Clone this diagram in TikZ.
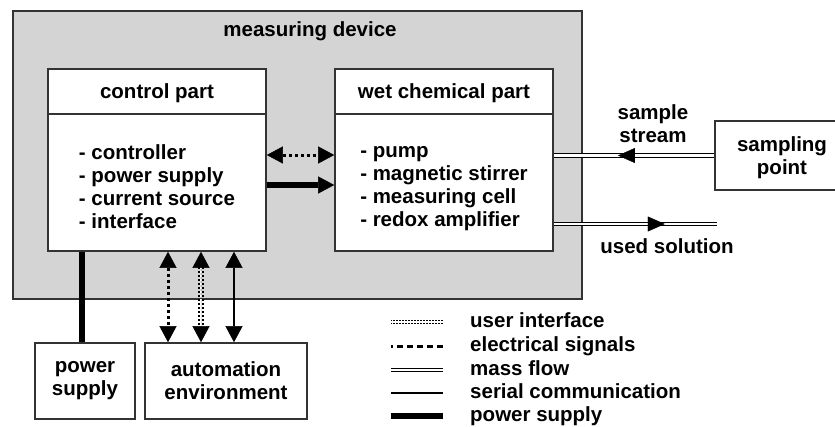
\documentclass[tikz,border=0pt]{standalone}
\usepackage{fontspec}
\setmainfont{Liberation Sans}
\usepackage{tikz}
\usetikzlibrary{arrows.meta, decorations.markings}

\tikzset{
  box/.style={draw=black!80, line width=1.6pt, fill=white, inner sep=0pt, align=center},
  devbox/.style={draw=black!80, line width=1.6pt, fill=black!17, inner sep=0pt},
  legtext/.style={anchor=west, inner sep=0pt, text height=15pt, text depth=4pt},
  elec/.style={line width=3pt, dash pattern=on 3.5pt off 2.5pt},
  uiface/.style={double=white, line width=1.8pt, double distance=1.6pt, dash pattern=on 2.4pt off 1.6pt},
  mass/.style={double=white, line width=1.2pt, double distance=2.2pt},
  serial/.style={line width=1.4pt},
  power/.style={line width=6pt},
  heads/.style={line width=0.01pt, <->},
  midhead/.style={decorate, decoration={markings,
      mark=at position #1 with {\arrow{Triangle[length=17pt, width=15pt]}}}}
}

\begin{document}
\begin{tikzpicture}[x=1pt, y=-1pt, >={Triangle[length=16pt, width=17pt, line width=0.5pt]},
    font=\fontsize{20.5}{23}\selectfont\bfseries]
  % Frame
  \useasboundingbox (0,0) rectangle (835,426);
  \clip (0,0) rectangle (835,426);

  % Measuring device
  \node[devbox, minimum width=569pt, minimum height=288pt] (device) at (297.5,155) {};
  \node (devtitle) at (310,31) {measuring device};

  % Control part
  \node[box, minimum width=218pt, minimum height=45pt] (ctrlhead) at (157,91.5) {};
  \node (ctrltitle) at (157,93) {control part};
  \node[box, minimum width=218pt, minimum height=137pt] (ctrlbody) at (157,182.5) {};
  \node[align=left] (ctrllist) at (157,187)
    {- controller\\- power supply\\- current source\\- interface};

  % Wet chemical part
  \node[box, minimum width=218pt, minimum height=45pt] (wethead) at (444,91.5) {};
  \node (wettitle) at (444,93) {wet chemical part};
  \node[box, minimum width=218pt, minimum height=137pt] (wetbody) at (444,182.5) {};
  \node[align=left] (wetlist) at (444,189)
    {- pump\\- magnetic stirrer\\- measuring cell\\- redox amplifier};

  % Outside blocks
  \node[box, minimum width=134pt, minimum height=69pt] (sp) at (782,155.5) {};
  \node[align=center] (sptext) at (782,158) {sampling\\point};
  \node[box, minimum width=100pt, minimum height=76pt] (pwr) at (85,381) {power\\supply};
  \node[box, minimum width=162pt, minimum height=76pt] (auto) at (226,381) {automation\\environment};
  \coordinate (usedend) at (717,224);

  % Links inside the device
  \draw[elec, <->] ([yshift=27.5pt]ctrlbody.east) -- ([yshift=27.5pt]ctrlbody.east -| wetbody.west);
  \draw[power, ->] ([yshift=-2.5pt]ctrlbody.east) -- ([yshift=-2.5pt]ctrlbody.east -| wetbody.west);

  % Mass flow
  \draw[mass] (sp.west) -- (sp.west -| wetbody.east);
  \path[midhead=0.6] (sp.west) -- (sp.west -| wetbody.east);
  \draw[mass] (usedend -| wetbody.east) -- (usedend);
  \path[midhead=0.68] (usedend -| wetbody.east) -- (usedend);
  \node[align=center] (streamlbl) at (653,124) {sample\\stream};
  \node (usedlbl) at (667,246) {used solution};

  % Power supply and automation environment
  \draw[power] ([xshift=-3pt]pwr.north) -- ([xshift=-3pt]pwr.north |- ctrlbody.south);
  \draw[elec, <->] ([xshift=11pt]ctrlbody.south) -- ([xshift=11pt]ctrlbody.south |- auto.north);
  \draw[uiface, shorten <=15pt, shorten >=15pt] ([xshift=44pt]ctrlbody.south) -- ([xshift=44pt]ctrlbody.south |- auto.north);
  \draw[heads] ([xshift=44pt]ctrlbody.south) -- ([xshift=44pt]ctrlbody.south |- auto.north);
  \draw[serial, <->] ([xshift=77pt]ctrlbody.south) -- ([xshift=77pt]ctrlbody.south |- auto.north);

  % Legend
  \node[legtext] (lgui) at (470,322) {user interface};
  \node[legtext] (lgelec) at (470,346) {electrical signals};
  \node[legtext] (lgmass) at (470,370) {mass flow};
  \node[legtext] (lgser) at (470,393) {serial communication};
  \node[legtext] (lgpow) at (470,416) {power supply};
  \draw[uiface, line width=1.4pt, double distance=1.2pt, dash pattern=on 1.6pt off 1.4pt]
    ([xshift=-27pt]lgui.west) -- ++(-52,0);
  \draw[elec, dash pattern=on 6.5pt off 3.5pt] ([xshift=-27pt]lgelec.west) -- ++(-52,0);
  \draw[mass] ([xshift=-27pt]lgmass.west) -- ++(-52,0);
  \draw[serial] ([xshift=-27pt]lgser.west) -- ++(-52,0);
  \draw[power] ([xshift=-27pt]lgpow.west) -- ++(-52,0);
\end{tikzpicture}
\end{document}
